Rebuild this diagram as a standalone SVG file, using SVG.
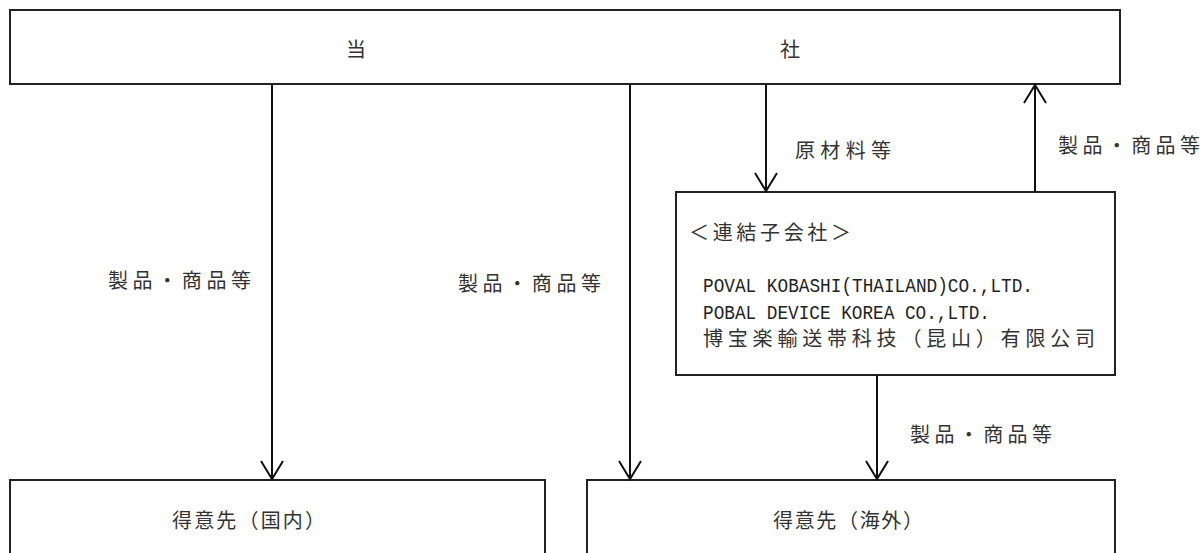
<svg xmlns="http://www.w3.org/2000/svg" width="1203" height="553" viewBox="0 0 1203 553">
<style>
.box{fill:#fff;stroke:#222;stroke-width:2}
.ln{stroke:#111;stroke-width:2;fill:none}
.ah{stroke:#111;stroke-width:2;fill:none}
text{font-family:"Liberation Serif","Noto Sans CJK JP",serif;font-size:20px;fill:#333}
.lat{font-family:"Liberation Mono","Noto Sans CJK JP",monospace;font-size:21px;fill:#222}
</style>
<rect width="1203" height="553" fill="#fff"/>
<g id="node-toho">
<rect class="box" x="10" y="10" width="1110" height="74"/>
<text x="346" y="57">当</text>
<text x="780" y="57">社</text>
</g>
<g id="node-sub">
<rect class="box" x="676" y="192" width="439" height="183"/>
<text x="689" y="240" textLength="162" lengthAdjust="spacing">＜連結子会社＞</text>
<text class="lat" x="703" y="292" textLength="330" lengthAdjust="spacingAndGlyphs">POVAL KOBASHI(THAILAND)CO.,LTD.</text>
<text class="lat" x="703" y="319" textLength="287" lengthAdjust="spacingAndGlyphs">POBAL DEVICE KOREA CO.,LTD.</text>
<text x="703" y="346" textLength="392" lengthAdjust="spacing">博宝楽輸送帯科技（昆山）有限公司</text>
</g>
<g id="node-dom">
<rect class="box" x="10" y="480" width="535" height="90"/>
<text x="172" y="528" textLength="153" lengthAdjust="spacing">得意先（国内）</text>
</g>
<g id="node-ovs">
<rect class="box" x="587" y="480" width="528" height="90"/>
<text x="773" y="528" textLength="150" lengthAdjust="spacing">得意先（海外）</text>
</g>
<g id="connectors">
<line class="ln" x1="272" y1="84" x2="272" y2="479"/>
<polyline class="ah" points="261,461 272,479 283,461"/>
<text x="108" y="288" textLength="143" lengthAdjust="spacing">製品・商品等</text>
<line class="ln" x1="630" y1="84" x2="630" y2="479"/>
<polyline class="ah" points="619,461 630,479 641,461"/>
<text x="458" y="291" textLength="143" lengthAdjust="spacing">製品・商品等</text>
<line class="ln" x1="766" y1="84" x2="766" y2="191"/>
<polyline class="ah" points="755,173 766,191 777,173"/>
<text x="795" y="158" textLength="96" lengthAdjust="spacing">原材料等</text>
<line class="ln" x1="1035" y1="192" x2="1035" y2="85"/>
<polyline class="ah" points="1024,103 1035,85 1046,103"/>
<text x="1058" y="153" textLength="142" lengthAdjust="spacing">製品・商品等</text>
<line class="ln" x1="877" y1="375" x2="877" y2="479"/>
<polyline class="ah" points="866,461 877,479 888,461"/>
<text x="910" y="442" textLength="142" lengthAdjust="spacing">製品・商品等</text>
</g>
</svg>
